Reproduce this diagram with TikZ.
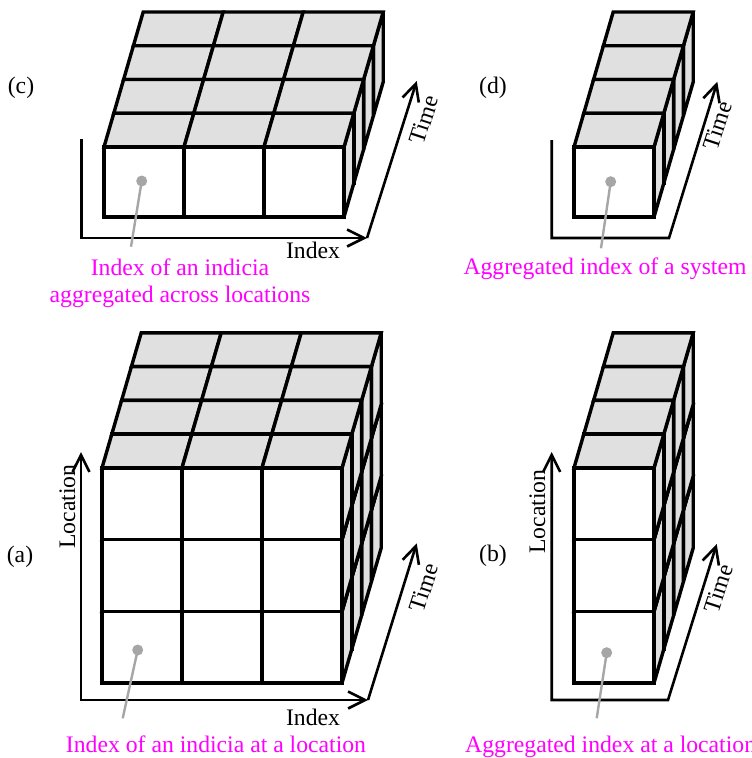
\documentclass[tikz,border=0pt]{standalone}
\usepackage{fontspec}
\setmainfont{Liberation Serif}
\usetikzlibrary{arrows.meta}
\definecolor{topgray}{HTML}{E0E0E0}
\definecolor{ptrgray}{HTML}{A6A6A6}
\definecolor{mag}{HTML}{FF00FF}
\tikzset{
  cubeface/.style={draw=black, line width=3.4pt, line join=miter, miter limit=2.5},
  axisline/.style={draw=black, line width=2.6pt, line join=miter, miter limit=2.5},
  tip/.tip={Straight Barb[length=17pt,width=17pt,line width=2.6pt]},
  lbl/.style={inner sep=0pt, font=\fontsize{23.7}{28}\selectfont},
  magtext/.style={lbl, text=mag},
  dotnode/.style={circle, fill=ptrgray, minimum size=11pt, inner sep=0pt},
  ptr/.style={draw=ptrgray, line width=2.4pt},
}
% #1 X0, #2 Y0 (front bottom-left), #3 last column index, #4 last row index, #5 cell height
\newcommand\drawblock[5]{%
  \foreach \kd in {3,2,1,0}{%
    \foreach \kr in {0,...,#4}{%
      \foreach \kc in {0,...,#3}{%
        \pgfmathsetmacro\xa{#1+\kc*80+\kd*9.8}%
        \pgfmathsetmacro\ya{#2-\kr*#5-\kd*33.75}%
        \pgfmathsetmacro\xb{\xa+80}%
        \pgfmathsetmacro\yb{\ya-#5}%
        \filldraw[cubeface, fill=topgray] (\xb,\ya) -- (\xb,\yb) -- ++(9.8,-33.75) -- ++(0,#5) -- cycle;
        \filldraw[cubeface, fill=topgray] (\xa,\yb) -- (\xb,\yb) -- ++(9.8,-33.75) -- ++(-80,0) -- cycle;
        \filldraw[cubeface, fill=white] (\xa,\ya) rectangle (\xb,\yb);
      }%
    }%
  }%
}
\begin{document}
\begin{tikzpicture}[x=1pt, y=-1pt]
\useasboundingbox (0,0) rectangle (752,758);
\clip (0,0) rectangle (752,758);

% ---------------- (c) ----------------
\coordinate (cv) at (81.7,139.3);
\coordinate (co) at (81.7,238);
\coordinate (cx) at (367,238);
\coordinate (ct) at (416.7,81);
\draw[axisline, -tip] (cv) -- (co) -- (cx);
\draw[axisline, -tip] (cx) -- (ct);
\drawblock{104}{217}{2}{0}{70}
\node[lbl, anchor=base] (cidx) at (313,258) {Index};
\node[lbl, rotate=72] (ctime) at (424,120) {Time};
\node[dotnode] (cdot) at (141.7,181) {};
\coordinate (cend) at (131,246.7);
\draw[ptr] (cdot.center) -- (cend);
\node[magtext, anchor=base] (tc1) at (180,275) {Index of an indicia};
\node[magtext, anchor=base] (tc2) at (180,302) {aggregated across locations};
\node[lbl, anchor=base] (lc) at (21,93) {(c)};

% ---------------- (d) ----------------
\coordinate (dv) at (551.7,140);
\coordinate (do) at (551.7,238);
\coordinate (dx) at (669,238);
\coordinate (dt) at (717.3,81.7);
\draw[axisline, -tip] (dv) -- (do) -- (dx) -- (dt);
\drawblock{574}{217}{0}{0}{70}
\node[lbl, rotate=72] (dtime) at (717.5,125.5) {Time};
\node[dotnode] (ddot) at (610.7,181.7) {};
\coordinate (dend) at (601,248.3);
\draw[ptr] (ddot.center) -- (dend);
\node[magtext, anchor=base] (td) at (605,274) {Aggregated index of a system};
\node[lbl, anchor=base] (ld) at (493,93) {(d)};

% ---------------- (a) ----------------
\coordinate (av) at (81,452);
\coordinate (ao) at (81,700);
\coordinate (ax) at (368,700);
\coordinate (at) at (416.7,543.3);
\draw[axisline, tip-tip] (av) -- (ao) -- (ax);
\draw[axisline, -tip] (ax) -- (at);
\drawblock{102}{683}{2}{2}{71.7}
\node[lbl, anchor=base] (aidx) at (313,725) {Index};
\node[lbl, rotate=72] (atime) at (424,588) {Time};
\node[lbl, rotate=90, anchor=base] (aloc) at (75,506.5) {Location};
\node[dotnode] (adot) at (137.7,650) {};
\coordinate (aend) at (122.7,718.3);
\draw[ptr] (adot.center) -- (aend);
\node[magtext, anchor=base] (ta) at (216,752) {Index of an indicia at a location};
\node[lbl, anchor=base] (la) at (20,562) {(a)};

% ---------------- (b) ----------------
\coordinate (bv) at (551.7,452);
\coordinate (bo) at (551.7,700);
\coordinate (bx) at (668,700);
\coordinate (bt) at (716.7,544);
\draw[axisline, tip-tip] (bv) -- (bo) -- (bx) -- (bt);
\drawblock{574}{683}{0}{2}{71.7}
\node[lbl, rotate=72] (btime) at (718.5,588.5) {Time};
\node[lbl, rotate=90, anchor=base] (bloc) at (545,511.5) {Location};
\node[dotnode] (bdot) at (606.7,652.7) {};
\coordinate (bend) at (596.7,718.3);
\draw[ptr] (bdot.center) -- (bend);
\node[magtext, anchor=base west] (tb) at (465,752) {Aggregated index at a location};
\node[lbl, anchor=base] (lb) at (493,561) {(b)};
\end{tikzpicture}
\end{document}
